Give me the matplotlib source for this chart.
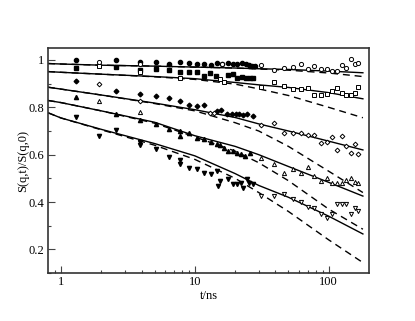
import matplotlib
matplotlib.use("Agg")
import matplotlib.pyplot as plt
from matplotlib.ticker import FixedLocator, NullFormatter

# ---- fitted curves (solid = model A, dashed = model B) ----
t_fit = [0.8, 1, 2, 5, 10, 20, 30, 50, 100, 180]
circ_solid = [0.985, 0.983, 0.978, 0.974, 0.970, 0.966, 0.963, 0.960, 0.953, 0.946]
circ_dash = [0.985, 0.983, 0.978, 0.974, 0.970, 0.966, 0.962, 0.957, 0.945, 0.930]
sq_solid = [0.951, 0.948, 0.940, 0.930, 0.921, 0.905, 0.895, 0.884, 0.862, 0.836]
sq_dash = [0.951, 0.948, 0.940, 0.929, 0.918, 0.898, 0.878, 0.850, 0.800, 0.756]
dia_solid = [0.885, 0.877, 0.852, 0.818, 0.790, 0.757, 0.730, 0.700, 0.657, 0.620]
dia_dash = [0.885, 0.877, 0.852, 0.816, 0.785, 0.735, 0.700, 0.635, 0.530, 0.440]
up_solid = [0.829, 0.820, 0.785, 0.737, 0.680, 0.635, 0.600, 0.550, 0.483, 0.425]
up_dash = [0.829, 0.820, 0.785, 0.733, 0.675, 0.615, 0.566, 0.490, 0.370, 0.285]
dn_solid = [0.777, 0.755, 0.707, 0.647, 0.595, 0.520, 0.470, 0.420, 0.340, 0.265]
dn_dash = [0.777, 0.755, 0.705, 0.640, 0.580, 0.500, 0.440, 0.360, 0.240, 0.144]

# ---- data points ----
circ_f_t = [1.29, 2.58, 3.9, 5.15, 6.43, 7.8, 9.1, 10.4, 11.8, 13.1, 14.7, 16, 17.8, 19.3, 20.7, 22.6, 23.9, 25.2, 26.8, 27.9]
circ_f_v = [0.998, 0.999, 0.993, 0.99, 0.984, 0.99, 0.988, 0.985, 0.985, 0.978, 0.988, 0.984, 0.988, 0.981, 0.984, 0.988, 0.984, 0.978, 0.974, 0.974]
circ_o_t = [1.93, 3.9, 16, 31, 38.7, 46.3, 54, 61.7, 70, 77.6, 87, 96.6, 106.6, 116, 126.7, 135.7, 146, 156.7, 166.8]
circ_o_v = [0.99, 0.985, 0.984, 0.977, 0.957, 0.967, 0.971, 0.981, 0.96, 0.974, 0.963, 0.96, 0.953, 0.953, 0.977, 0.967, 1.005, 0.984, 0.988]

sq_f_t = [1.29, 2.58, 3.9, 5.15, 6.43, 7.8, 9.1, 10.4, 11.7, 12.9, 14.5, 17.8, 19.3, 20.7, 22.6, 24.2, 25.6, 27.2]
sq_f_v = [0.967, 0.971, 0.956, 0.96, 0.957, 0.95, 0.949, 0.949, 0.934, 0.945, 0.932, 0.936, 0.939, 0.924, 0.929, 0.922, 0.922, 0.922]
sq_o_t = [1.93, 3.9, 7.8, 15.5, 16.5, 31, 38.7, 46.3, 54, 61.7, 70, 77.6, 87, 96.6, 106.6, 116, 126.7, 135.7, 146, 156.7, 166.8]
sq_o_v = [0.974, 0.95, 0.925, 0.918, 0.908, 0.886, 0.906, 0.892, 0.876, 0.876, 0.882, 0.851, 0.85, 0.857, 0.871, 0.88, 0.861, 0.85, 0.854, 0.861, 0.886]

dia_f_t = [1.29, 2.58, 3.9, 5.15, 6.43, 7.8, 9.1, 10.4, 11.7, 14.7, 15.8, 17.3, 18.8, 20.3, 21.5, 22.9, 24.5, 27.0]
dia_f_v = [0.913, 0.871, 0.857, 0.847, 0.84, 0.826, 0.808, 0.805, 0.808, 0.784, 0.787, 0.773, 0.773, 0.772, 0.771, 0.767, 0.772, 0.763]
dia_o_t = [1.93, 3.9, 12.9, 13.9, 31, 38.7, 46.3, 54, 61.7, 70, 77.6, 87, 96.6, 106.6, 116, 126.7, 135.7, 146, 156.7, 166.8]
dia_o_v = [0.897, 0.826, 0.777, 0.775, 0.724, 0.735, 0.69, 0.69, 0.692, 0.681, 0.681, 0.65, 0.654, 0.674, 0.618, 0.678, 0.636, 0.608, 0.646, 0.601]

up_f_t = [1.29, 2.58, 3.9, 5.15, 6.43, 7.8, 7.8, 9.1, 10.4, 11.8, 13.1, 14.7, 15.5, 16.5, 17.8, 19.3, 20.7, 22.2, 23.6, 25.6]
up_f_v = [0.843, 0.773, 0.746, 0.73, 0.707, 0.70, 0.678, 0.69, 0.671, 0.665, 0.653, 0.643, 0.639, 0.63, 0.615, 0.615, 0.608, 0.604, 0.594, 0.608]
up_o_t = [1.93, 3.9, 31, 38.7, 46.3, 54, 61.7, 70, 77.6, 87, 96.6, 106.6, 116, 126.7, 135.7, 146, 156.7, 166.8]
up_o_v = [0.826, 0.780, 0.587, 0.559, 0.524, 0.54, 0.524, 0.548, 0.51, 0.489, 0.5, 0.481, 0.481, 0.479, 0.492, 0.5, 0.486, 0.481]

dn_f_t = [1.29, 1.93, 2.58, 3.9, 3.9, 5.15, 6.43, 7.8, 7.8, 9.1, 10.4, 11.8, 13.1, 14.7, 15.5, 15.0, 17.8, 19.3, 20.5, 22.2, 23.0, 24.5, 25.2, 27.2]
dn_f_v = [0.759, 0.678, 0.703, 0.654, 0.64, 0.625, 0.59, 0.576, 0.559, 0.542, 0.538, 0.524, 0.517, 0.531, 0.489, 0.467, 0.496, 0.477, 0.477, 0.481, 0.46, 0.496, 0.481, 0.475]
dn_o_t = [31, 38.7, 46.3, 54, 61.7, 70, 77.6, 87, 96.6, 106.6, 116, 126.7, 135.7, 146, 156.7, 166.8]
dn_o_v = [0.425, 0.425, 0.435, 0.411, 0.401, 0.379, 0.376, 0.351, 0.331, 0.351, 0.39, 0.39, 0.39, 0.351, 0.376, 0.362]

x_ticks = [1, 10, 100]
x_ticklabels = ["1", "10", "100"]
y_ticks = [0.2, 0.4, 0.6, 0.8, 1.0]
y_ticklabels = ["0.2", "0.4", "0.6", "0.8", "1"]

plt.rcParams['font.family'] = ['Liberation Serif', 'DejaVu Serif']

fig = plt.figure(figsize=(4.15, 3.21), dpi=100)
ax = fig.add_axes([0.1157, 0.1495, 0.7735, 0.7005])

for s, d in [(circ_solid, circ_dash), (sq_solid, sq_dash), (dia_solid, dia_dash),
             (up_solid, up_dash), (dn_solid, dn_dash)]:
    ax.plot(t_fit, s, color='black', lw=1.0)
    ax.plot(t_fit, d, color='black', lw=1.0, ls=(0, (5, 3.5)))

ms = 3.0
ax.plot(circ_f_t, circ_f_v, 'o', color='black', ms=ms, ls='none')
ax.plot(circ_o_t, circ_o_v, 'o', mfc='white', mec='black', mew=0.7, ms=ms, ls='none')
ax.plot(sq_f_t, sq_f_v, 's', color='black', ms=ms - 0.3, ls='none')
ax.plot(sq_o_t, sq_o_v, 's', mfc='white', mec='black', mew=0.7, ms=ms - 0.3, ls='none')
ax.plot(dia_f_t, dia_f_v, 'D', color='black', ms=ms - 0.6, ls='none')
ax.plot(dia_o_t, dia_o_v, 'D', mfc='white', mec='black', mew=0.7, ms=ms - 0.6, ls='none')
ax.plot(up_f_t, up_f_v, '^', color='black', ms=ms, ls='none')
ax.plot(up_o_t, up_o_v, '^', mfc='white', mec='black', mew=0.7, ms=ms, ls='none')
ax.plot(dn_f_t, dn_f_v, 'v', color='black', ms=ms, ls='none')
ax.plot(dn_o_t, dn_o_v, 'v', mfc='white', mec='black', mew=0.7, ms=ms, ls='none')

ax.set_xscale('log')
ax.set_xlim(0.8, 200)
ax.set_ylim(0.1, 1.05)
ax.xaxis.set_major_locator(FixedLocator(x_ticks))
ax.set_xticklabels(x_ticklabels)
ax.xaxis.set_minor_locator(FixedLocator([0.9] + [k for k in range(2, 10)] + [k * 10 for k in range(2, 10)]))
ax.xaxis.set_minor_formatter(NullFormatter())
ax.set_yticks(y_ticks)
ax.set_yticklabels(y_ticklabels)
ax.yaxis.set_minor_locator(FixedLocator([0.1, 0.3, 0.5, 0.7, 0.9]))

ax.tick_params(which='major', direction='in', length=5, width=0.8, labelsize=9,
               top=False, right=False, colors='#444444', labelcolor='black', pad=2.5)
ax.tick_params(which='minor', direction='in', length=2.5, width=0.8,
               top=False, right=False, colors='#444444')
for sp in ax.spines.values():
    sp.set_linewidth(1.2)
    sp.set_color('#333333')

ax.set_xlabel('t/ns', fontsize=9, labelpad=1)
ax.set_ylabel('S(q,t)/S(q,0)', fontsize=9, labelpad=0)

fig.savefig('out.png', dpi=100)
